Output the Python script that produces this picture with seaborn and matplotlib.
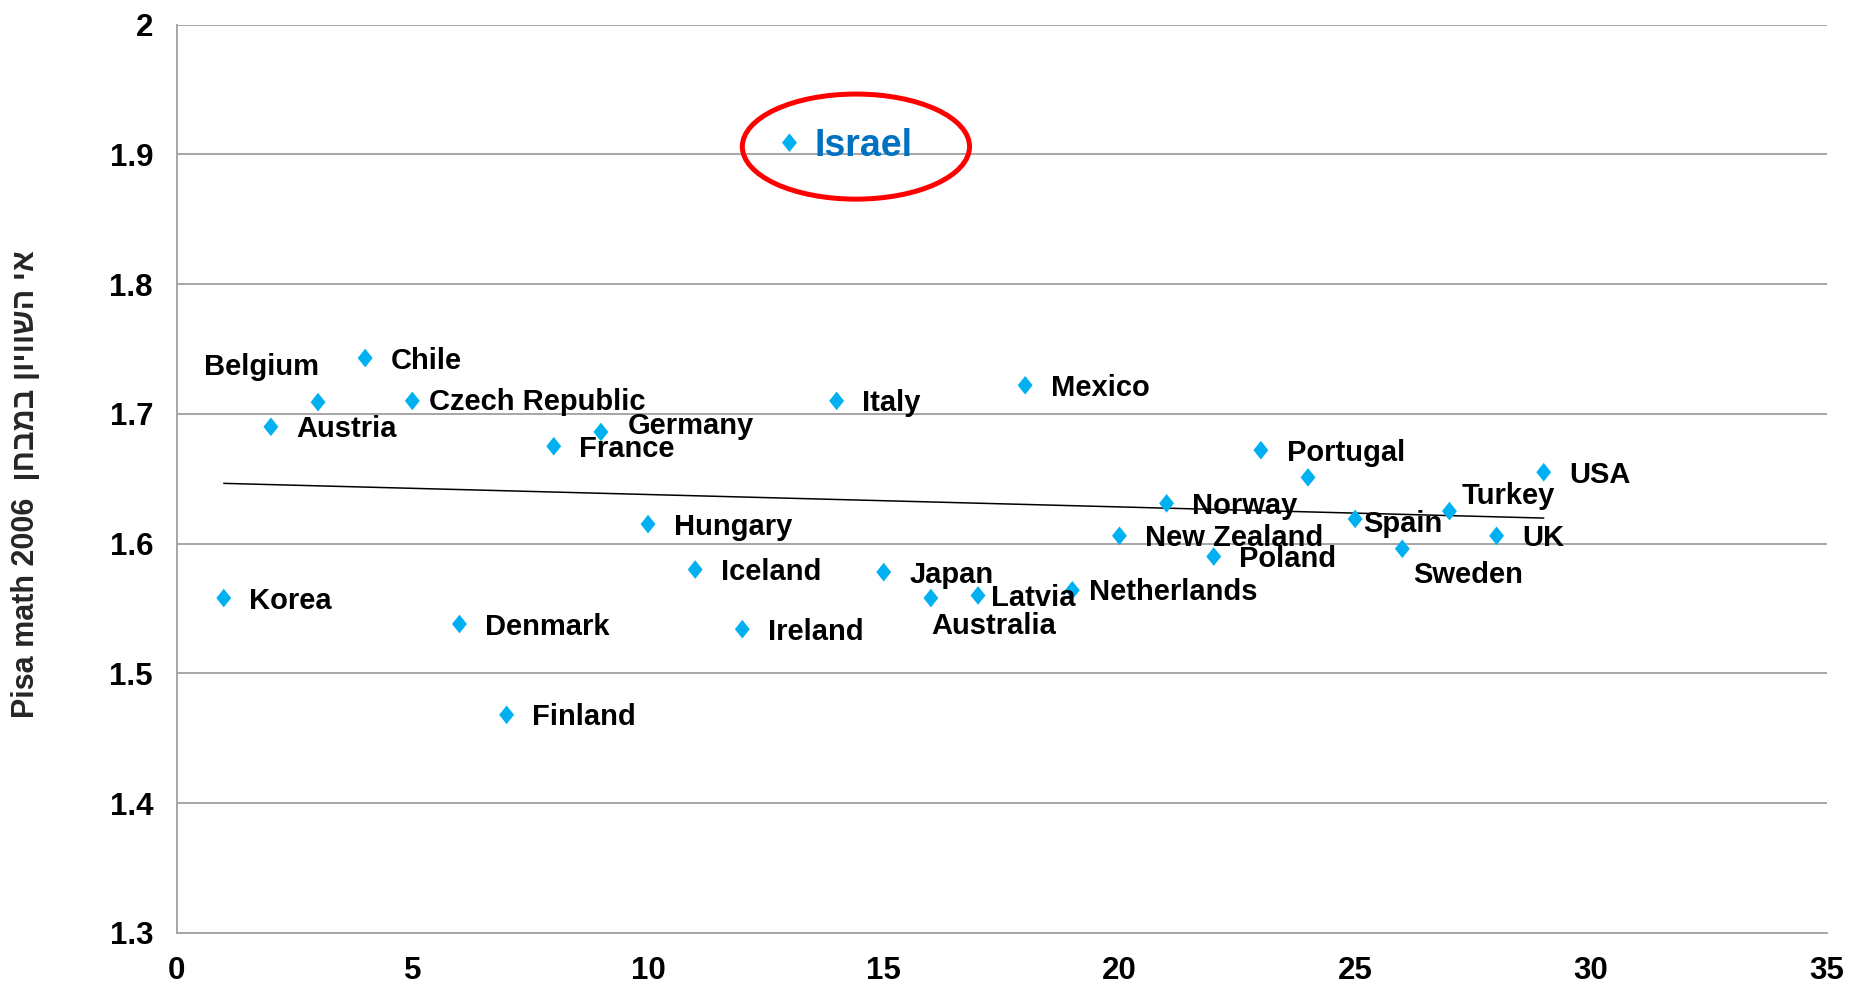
"""Pisa math 2006 inequality scatter with trend line."""

import matplotlib
matplotlib.use("Agg")
import matplotlib.pyplot as plt
from matplotlib.patches import Ellipse
from matplotlib.path import Path
import pandas as pd
import seaborn as sns

# --- data -------------------------------------------------------------
countries = ["Korea", "Austria", "Belgium", "Chile", "Czech Republic", "Denmark",
             "Finland", "France", "Germany", "Hungary", "Iceland", "Ireland",
             "Israel", "Italy", "Japan", "Australia", "Latvia", "Mexico",
             "Netherlands", "New Zealand", "Norway", "Poland", "Portugal", "",
             "Spain", "Sweden", "Turkey", "UK", "USA"]
rank = list(range(1, 30))
inequality = [1.558, 1.690, 1.709, 1.743, 1.710, 1.538,
              1.468, 1.675, 1.686, 1.615, 1.580, 1.534,
              1.909, 1.710, 1.578, 1.558, 1.560, 1.722,
              1.564, 1.606, 1.631, 1.590, 1.672, 1.651,
              1.619, 1.596, 1.625, 1.606, 1.655]
x_ticks = [0, 5, 10, 15, 20, 25, 30, 35]
y_ticks = [1.3, 1.4, 1.5, 1.6, 1.7, 1.8, 1.9, 2.0]
y_tick_labels = ["1.3", "1.4", "1.5", "1.6", "1.7", "1.8", "1.9", "2"]
# label: visual (left-to-right) order for the Hebrew part
y_label = "Pisa math 2006  " + "אי השוויון במבחן"[::-1]
highlight = "Israel"

# --- layout -----------------------------------------------------------
# label offsets in points (dx, dy) and horizontal alignment
label_offsets = {
    "Belgium": (1, 25, "right"),
    "Czech Republic": (12, -1, "left"),
    "Germany": (19, 4, "left"),
    "Australia": (0, -20, "left"),
    "Latvia": (9, -2, "left"),
    "Netherlands": (12, -1, "left"),
    "Spain": (6, -4, "left"),
    "Sweden": (8, -19, "left"),
    "Turkey": (9, 11, "left"),
    "Israel": (18, -2.5, "left"),
}
default_offset = (18.5, -1.8, "left")

GRID = "#A6A6A6"
POINT = "#00B0F0"
FONT = ["Liberation Sans", "DejaVu Sans"]

sns.set_theme(style="white")
plt.rcParams["font.family"] = FONT
plt.rcParams["font.weight"] = "bold"

df = pd.DataFrame({"country": countries, "rank": rank, "value": inequality})

fig = plt.figure(figsize=(18.65, 9.94), dpi=100)
ax = fig.add_axes([0.0947, 0.0616, 0.8847, 0.9136])

# taller-than-wide diamond like the spreadsheet marker
diamond = Path([(0, 1), (0.8, 0), (0, -1), (-0.8, 0), (0, 1)],
               [Path.MOVETO, Path.LINETO, Path.LINETO, Path.LINETO, Path.CLOSEPOLY])

sns.regplot(data=df, x="rank", y="value", ax=ax, ci=None, scatter=False,
            truncate=True, line_kws={"color": "black", "lw": 1.1})
sns.scatterplot(data=df, x="rank", y="value", ax=ax, marker=diamond, s=180,
                color=POINT, edgecolor="none", zorder=3)

for _, row in df.iterrows():
    if not row["country"]:
        continue
    dx, dy, ha = label_offsets.get(row["country"], default_offset)
    if row["country"] == highlight:
        ax.annotate(row["country"], (row["rank"], row["value"]), xytext=(dx, dy),
                    textcoords="offset points", ha=ha, va="center",
                    fontsize=27, fontweight="bold", color="#0070C0", zorder=4)
        ax.add_patch(Ellipse((row["rank"] + 1.41, row["value"] - 0.003), 4.82, 0.081,
                             fill=False, edgecolor="#FF0000", lw=3.6, zorder=5))
    else:
        ax.annotate(row["country"], (row["rank"], row["value"]), xytext=(dx, dy),
                    textcoords="offset points", ha=ha, va="center",
                    fontsize=21, fontweight="bold", color="black", zorder=4)

ax.set_xlim(x_ticks[0], x_ticks[-1])
ax.set_ylim(y_ticks[0], y_ticks[-1])
ax.set_xticks(x_ticks)
ax.set_xticklabels([str(t) for t in x_ticks], fontsize=22.5, fontweight="bold")
ax.set_yticks(y_ticks)
ax.set_yticklabels(y_tick_labels, fontsize=22.5, fontweight="bold")
ax.yaxis.grid(True, color=GRID, lw=1.4)
ax.set_axisbelow(True)
ax.set_xlabel("")
ax.set_ylabel(y_label, fontsize=22, fontweight="bold")
ax.yaxis.set_label_coords(-0.082, 0.494)

for side in ["top", "right"]:
    ax.spines[side].set_visible(False)
for side in ["left", "bottom"]:
    ax.spines[side].set_color(GRID)
    ax.spines[side].set_linewidth(1.4)
ax.tick_params(axis="both", direction="out", length=7, width=1.2, color=GRID,
               pad=10, labelcolor="black")

fig.savefig("out.png", dpi=100)
plt.close(fig)
